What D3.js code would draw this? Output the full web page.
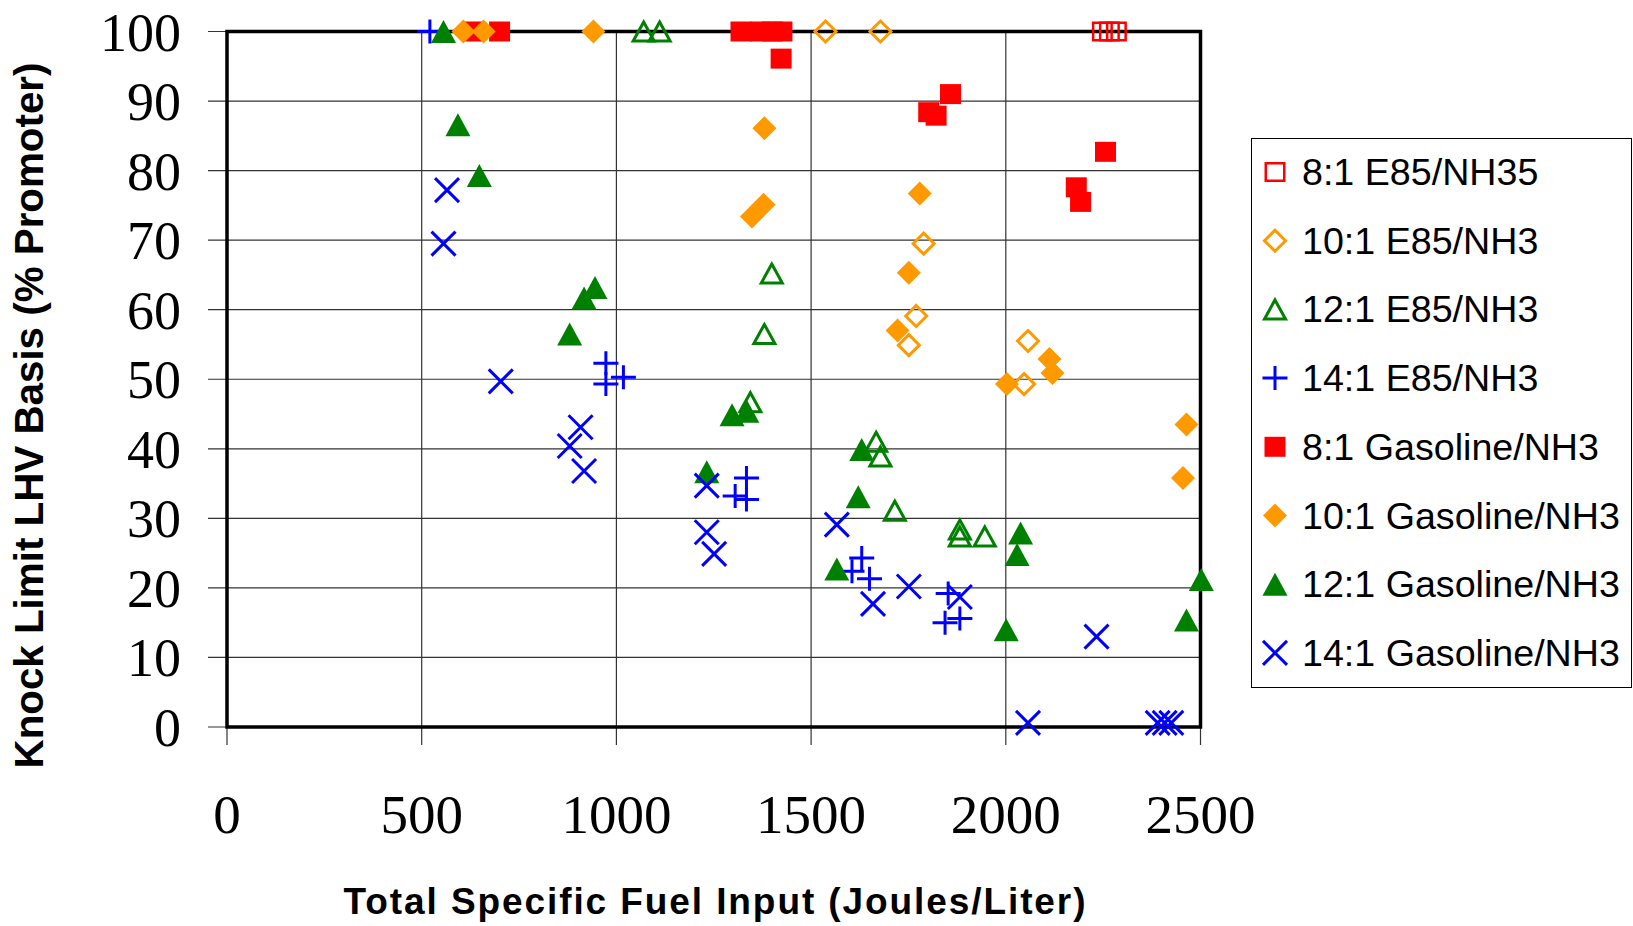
<!DOCTYPE html>
<html>
<head>
<meta charset="utf-8">
<script src="https://cdn.jsdelivr.net/npm/d3@7"></script>
<style>
  body { margin: 0; background: #fff; }
  svg { display: block; }
</style>
</head>
<body>
<div id="grafica"></div>
<script>

// ---------------------------//
//          DATA              //
// ---------------------------//

// [fuel input, knock limit]
var e85_8 = [[2248, 100], [2266, 100], [2284, 100]];
var e85_10 = [[1537, 100], [1678, 100], [1789, 69.5], [1770, 59.1], [1751, 54.9], [2057, 55.5], [2047, 49.3]];
var e85_12 = [[1070, 100], [1111, 100], [1399, 65.2], [1380, 56.5], [1344, 46.7], [1667, 41.0], [1678, 38.9],
  [1715, 31.1], [1882, 28.4], [1882, 27.4], [1946, 27.4]];
var e85_14 = [[521, 100], [973, 52.3], [973, 49.3], [1018, 50.3], [1305, 33.2], [1334, 35.8], [1334, 32.7],
  [1630, 24.3], [1605, 22.4], [1650, 21.3], [1852, 19.2], [1844, 15.0], [1882, 15.6]];
var gas_8 = [[630, 100], [700, 100], [1320, 100], [1370, 100], [1400, 100], [1425, 100], [1423, 96.1],
  [1858, 91.0], [1802, 88.4], [1821, 87.9], [2256, 82.7], [2181, 77.6], [2192, 75.5]];
var gas_10 = [[607, 100], [659, 100], [941, 100], [1380, 86.1], [1348, 73.4], [1378, 75.1], [1779, 76.7],
  [1751, 65.3], [1722, 57.0], [2003, 49.3], [2112, 52.9], [2120, 50.9], [2464, 43.5], [2455, 35.8]];
var gas_12 = [[556, 100], [593, 86.6], [648, 79.3], [945, 63.2], [917, 61.7], [880, 56.5], [1297, 44.9],
  [1335, 45.4], [1232, 36.7], [1630, 39.9], [1621, 33.1], [1566, 22.7], [2038, 27.9], [2029, 24.8],
  [2001, 14.0], [2502, 21.2], [2464, 15.4]];
var gas_14 = [[565, 77.2], [556, 69.5], [703, 49.7], [908, 43.1], [880, 40.4], [917, 36.8], [1232, 34.7],
  [1232, 28.0], [1251, 24.9], [1566, 29.1], [1659, 17.7], [1751, 20.2], [1882, 18.7], [2233, 13.0],
  [2057, 0.6], [2390, 0.6], [2408, 0.6], [2425, 0.6]];

var seriesNames = ["8:1 E85/NH35", "10:1 E85/NH3", "12:1 E85/NH3", "14:1 E85/NH3",
  "8:1 Gasoline/NH3", "10:1 Gasoline/NH3", "12:1 Gasoline/NH3", "14:1 Gasoline/NH3"];
var seriesData = [e85_8, e85_10, e85_12, e85_14, gas_8, gas_10, gas_12, gas_14];

var xTicks = [0, 500, 1000, 1500, 2000, 2500];
var yTicks = [0, 10, 20, 30, 40, 50, 60, 70, 80, 90, 100];

// ---------------------------//
//       MARKERS              //
// ---------------------------//

var red = "#ff0000", orange = "#ff9900", green = "#008000", blue = "#0000ff";

function square(w, h) { return "M" + (-w / 2) + "," + (-h / 2) + "h" + w + "v" + h + "h" + (-w) + "Z"; }
function diamond(w, h) { return "M0," + (-h / 2) + "L" + (w / 2) + ",0L0," + (h / 2) + "L" + (-w / 2) + ",0Z"; }
function triangle(w, h) { return "M0," + (-h / 2) + "L" + (w / 2) + "," + (h / 2) + "L" + (-w / 2) + "," + (h / 2) + "Z"; }
function plus(w, h) { return "M" + (-w / 2) + ",0H" + (w / 2) + "M0," + (-h / 2) + "V" + (h / 2); }
function cross(w, h) { return "M" + (-w / 2) + "," + (-h / 2) + "L" + (w / 2) + "," + (h / 2) + "M" + (w / 2) + "," + (-h / 2) + "L" + (-w / 2) + "," + (h / 2); }

var markers = [
  { d: square(18.5, 17.5), fill: "none", stroke: red, sw: 2.5 },
  { d: diamond(21, 21), fill: "none", stroke: orange, sw: 3 },
  { d: triangle(21, 19), fill: "none", stroke: green, sw: 3 },
  { d: plus(25, 24), fill: "none", stroke: blue, sw: 3 },
  { d: square(21, 20), fill: red, stroke: "none", sw: 0 },
  { d: diamond(24, 24), fill: orange, stroke: "none", sw: 0 },
  { d: triangle(25, 23), fill: green, stroke: "none", sw: 0 },
  { d: cross(24, 24), fill: "none", stroke: blue, sw: 3 }
];

// ---------------------------//
//       AXIS  AND SCALE      //
// ---------------------------//

var W = 1633, H = 926;
var svg = d3.select("#grafica").append("svg")
  .attr("width", W)
  .attr("height", H)
  .style("background", "#fff");

var x = d3.scaleLinear().domain([0, 2500]).range([227, 1200.5]);
var y = d3.scaleLinear().domain([0, 100]).range([727, 31.5]);

// gridlines + ticks
svg.append("g")
  .selectAll("line")
  .data(yTicks)
  .enter()
  .append("line")
  .attr("x1", 208).attr("x2", x(2500))
  .attr("y1", function (d) { return y(d); })
  .attr("y2", function (d) { return y(d); })
  .style("stroke", "#333").style("stroke-width", 1.2);

svg.append("g")
  .selectAll("line")
  .data(xTicks)
  .enter()
  .append("line")
  .attr("y1", y(100)).attr("y2", 745)
  .attr("x1", function (d) { return x(d); })
  .attr("x2", function (d) { return x(d); })
  .style("stroke", "#333").style("stroke-width", 1.2);

// frame
svg.append("rect")
  .attr("x", x(0)).attr("y", y(100))
  .attr("width", x(2500) - x(0)).attr("height", y(0) - y(100))
  .style("fill", "none").style("stroke", "#000").style("stroke-width", 3.5);

// tick labels
svg.append("g")
  .selectAll("text")
  .data(yTicks)
  .enter()
  .append("text")
  .attr("x", 181)
  .attr("y", function (d) { return y(d) + 19; })
  .attr("text-anchor", "end")
  .style("font-family", "'Liberation Serif', 'Times New Roman', serif")
  .style("font-size", "54px")
  .text(function (d) { return d; });

svg.append("g")
  .selectAll("text")
  .data(xTicks)
  .enter()
  .append("text")
  .attr("x", function (d) { return x(d); })
  .attr("y", 833)
  .attr("text-anchor", "middle")
  .style("font-family", "'Liberation Serif', 'Times New Roman', serif")
  .style("font-size", "55px")
  .text(function (d) { return d; });

// axis titles
svg.append("text")
  .attr("x", 714.5)
  .attr("y", 914)
  .attr("text-anchor", "middle")
  .attr("textLength", 742)
  .attr("lengthAdjust", "spacing")
  .style("font-family", "'Liberation Sans', Arial, sans-serif")
  .style("font-weight", "bold")
  .style("font-size", "37px")
  .text("Total Specific Fuel Input (Joules/Liter)");

svg.append("text")
  .attr("transform", "translate(43,415.5) rotate(-90)")
  .attr("text-anchor", "middle")
  .attr("textLength", 706)
  .attr("lengthAdjust", "spacingAndGlyphs")
  .style("font-family", "'Liberation Sans Narrow', 'Liberation Sans', Arial, sans-serif")
  .style("font-weight", "bold")
  .style("font-size", "40px")
  .text("Knock Limit LHV  Basis (% Promoter)");

// ---------------------------//
//       POINTS               //
// ---------------------------//

seriesData.forEach(function (data, i) {
  var m = markers[i];
  svg.append("g")
    .selectAll("path")
    .data(data)
    .enter()
    .append("path")
    .attr("d", m.d)
    .attr("transform", function (d) { return "translate(" + x(d[0]) + "," + y(d[1]) + ")"; })
    .style("fill", m.fill)
    .style("stroke", m.stroke)
    .style("stroke-width", m.sw)
    .style("stroke-linejoin", "miter");
});

// ---------------------------//
//       LEGEND               //
// ---------------------------//

svg.append("rect")
  .attr("x", 1251.5).attr("y", 138.5)
  .attr("width", 380).attr("height", 549)
  .style("fill", "#fff").style("stroke", "#000").style("stroke-width", 1);

var leg = svg.append("g")
  .selectAll("g")
  .data(seriesNames)
  .enter()
  .append("g")
  .attr("transform", function (d, i) { return "translate(0," + (172 + i * 68.7) + ")"; });

leg.append("path")
  .attr("d", function (d, i) { return markers[i].d; })
  .attr("transform", "translate(1275,0)")
  .style("fill", function (d, i) { return markers[i].fill; })
  .style("stroke", function (d, i) { return markers[i].stroke; })
  .style("stroke-width", function (d, i) { return markers[i].sw; });

leg.append("text")
  .attr("x", 1302)
  .attr("y", 13)
  .style("font-family", "'Liberation Sans', Arial, sans-serif")
  .style("font-size", "36px")
  .text(function (d) { return d; })
  .each(function () {
    var len = this.getComputedTextLength();
    d3.select(this).attr("textLength", len * 1.045).attr("lengthAdjust", "spacingAndGlyphs");
  });

</script>
</body>
</html>
